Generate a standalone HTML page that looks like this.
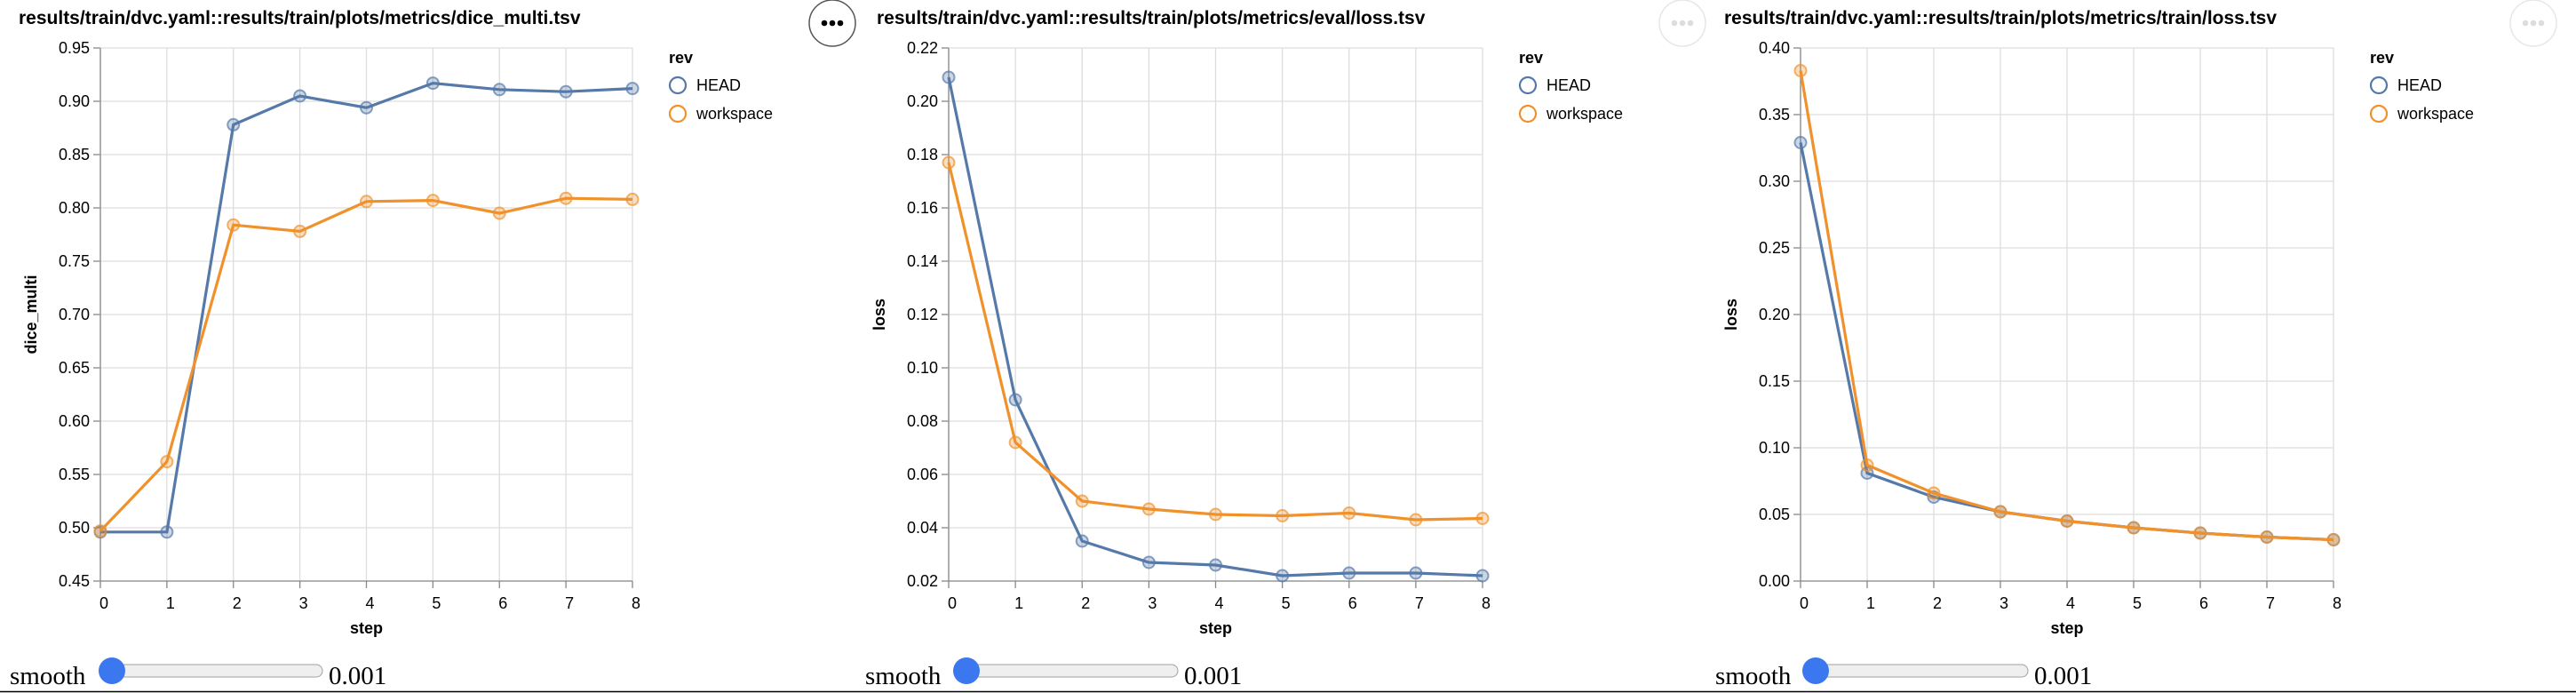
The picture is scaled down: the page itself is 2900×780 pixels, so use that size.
<!DOCTYPE html>
<html><head><meta charset="utf-8">
<style>
html,body{margin:0;padding:0;background:#fff;width:2900px;height:780px;overflow:hidden}
svg{display:block}
</style></head>
<body>
<svg id="root" width="2900" height="780" xmlns="http://www.w3.org/2000/svg"></svg>
<script>
const steps = [0,1,2,3,4,5,6,7,8];
const diceHead = [0.496,0.496,0.878,0.905,0.894,0.917,0.911,0.909,0.912];
const diceWork = [0.497,0.562,0.784,0.778,0.806,0.807,0.795,0.809,0.808];
const evalHead = [0.209,0.088,0.035,0.027,0.026,0.022,0.023,0.023,0.022];
const evalWork = [0.177,0.072,0.050,0.047,0.045,0.0445,0.0455,0.043,0.0435];
const trainHead = [0.329,0.081,0.063,0.052,0.045,0.040,0.036,0.033,0.031];
const trainWork = [0.383,0.087,0.066,0.052,0.045,0.040,0.036,0.033,0.031];
const diceTicks = [0.45,0.50,0.55,0.60,0.65,0.70,0.75,0.80,0.85,0.90,0.95];
const evalTicks = [0.02,0.04,0.06,0.08,0.10,0.12,0.14,0.16,0.18,0.20,0.22];
const trainTicks = [0.00,0.05,0.10,0.15,0.20,0.25,0.30,0.35,0.40];
const titles = ["results/train/dvc.yaml::results/train/plots/metrics/dice_multi.tsv","results/train/dvc.yaml::results/train/plots/metrics/eval/loss.tsv","results/train/dvc.yaml::results/train/plots/metrics/train/loss.tsv"];
const yTitles = ["dice_multi","loss","loss"];

const NS="http://www.w3.org/2000/svg";
const root=document.getElementById('root');
function mk(tag,attrs,parent){const e=document.createElementNS(NS,tag);for(const k in attrs)e.setAttribute(k,attrs[k]);(parent||root).appendChild(e);return e;}
const F='"Liberation Sans", Arial, sans-serif';
const HC="#5579a8", WC="#f0912c";

const charts=[
 {L:113,R:712,titleX:21,ell:937,ellDark:true,sm:11,knob:126,trackEnd:363,val:370,head:diceHead,work:diceWork,ticks:diceTicks,dec:2},
 {L:1068,R:1669,titleX:987,ell:1894,ellDark:false,sm:974,knob:1088,trackEnd:1326,val:1333,head:evalHead,work:evalWork,ticks:evalTicks,dec:2},
 {L:2027,R:2627,titleX:1941,ell:2852,ellDark:false,sm:1931,knob:2044,trackEnd:2283,val:2290,head:trainHead,work:trainWork,ticks:trainTicks,dec:2}
];
const T=54,B=654;

charts.forEach((c,i)=>{
 const g=mk('g',{});
 
 
 const ymin=c.ticks[0], ymax=c.ticks[c.ticks.length-1];
 const x=v=>c.L+(v-steps[0])/(steps[steps.length-1]-steps[0])*(c.R-c.L);
 const y=v=>B-(v-ymin)/(ymax-ymin)*(B-T);
 const t=mk('text',{x:c.titleX,y:27,'font-family':F,'font-size':21,'font-weight':'bold',fill:'#000'},g);
 t.textContent=titles[i];
 
 
 c.ticks.forEach(v=>{
  const l=mk('line',{x1:c.L,x2:c.R,y1:y(v),y2:y(v),stroke:'#ddd','stroke-width':1.3},g);
  
  
  mk('line',{x1:c.L-8,x2:c.L,y1:y(v),y2:y(v),stroke:'#888','stroke-width':1.3},g);
  const tl=mk('text',{x:c.L-12,y:y(v)+6,'text-anchor':'end','font-family':F,'font-size':18,fill:'#000'},g);
  tl.textContent=v.toFixed(c.dec);
  
  
 });
 steps.forEach(s=>{
  const l=mk('line',{x1:x(s),x2:x(s),y1:T,y2:B,stroke:'#ddd','stroke-width':1.3},g);
  
  
  mk('line',{x1:x(s),x2:x(s),y1:B,y2:B+8,stroke:'#888','stroke-width':1.3},g);
  const tl=mk('text',{x:x(s)+4,y:B+31,'text-anchor':'middle','font-family':F,'font-size':18,fill:'#000'},g);
  tl.textContent=s;
  
  
 });
 mk('line',{x1:c.L,x2:c.L,y1:T,y2:B,stroke:'#888','stroke-width':1.3},g);
 mk('line',{x1:c.L,x2:c.R,y1:B,y2:B,stroke:'#888','stroke-width':1.3},g);
 const xt=mk('text',{x:(c.L+c.R)/2,y:713,'text-anchor':'middle','font-family':F,'font-size':18,'font-weight':'bold'},g);
 xt.textContent='step';
 
 
 const ytx=c.L-72;
 const yt=mk('text',{x:ytx,y:(T+B)/2,'text-anchor':'middle','font-family':F,'font-size':18,'font-weight':'bold',transform:`rotate(-90 ${ytx} ${(T+B)/2})`},g);
 yt.textContent=yTitles[i];
 
 
 [[c.head,HC,'head'],[c.work,WC,'workspace']].forEach(([vals,col,nm])=>{
  const p=mk('path',{d:vals.map((v,k)=>(k?'L':'M')+x(steps[k])+','+y(v)).join(''),fill:'none',stroke:col,'stroke-width':3.2},g);
  
  
  vals.forEach((v,k)=>{
   const pt=mk('circle',{cx:x(steps[k]),cy:y(v),r:6.5,fill:col,'fill-opacity':0.3,stroke:col,'stroke-width':2,'stroke-opacity':0.7},g);
   
   
  });
 });
 const lx=c.R+41;
 const lt=mk('text',{x:lx,y:71,'font-family':F,'font-size':18,'font-weight':'bold'},g);
 lt.textContent='rev';
 
 
 [['HEAD',HC,96],['workspace',WC,128]].forEach(([n,col,yy])=>{
  const lc=mk('circle',{cx:lx+10,cy:yy,r:9,fill:'none',stroke:col,'stroke-width':2.2},g);
  
  
  const ltx=mk('text',{x:lx+31,y:yy+6,'font-family':F,'font-size':18,fill:'#000'},g);
  ltx.textContent=n;
  
  
 });
 const eg=mk('g',{},g);
 
 
 mk('circle',{cx:c.ell,cy:26,r:26,fill:'#fff',stroke:c.ellDark?'#555':'#e6e6e6','stroke-width':1.5},eg);
 [-9,0,9].forEach(d=>mk('circle',{cx:c.ell+d,cy:26,r:3.3,fill:c.ellDark?'#000':'#ddd'},eg));
 const sm=mk('text',{x:c.sm,y:770,'font-family':'"Liberation Serif", serif','font-size':29,fill:'#000'},g);
 sm.textContent='smooth';
 
 
 const tr=mk('rect',{x:c.knob,y:748,width:c.trackEnd-c.knob,height:14,rx:7,fill:'#efefef',stroke:'#a0a0a0','stroke-width':1},g);
 
 
 const kn=mk('circle',{cx:c.knob,cy:755,r:15,fill:'#3b78f0'},g);
 
 
 const vl=mk('text',{x:c.val,y:770,'font-family':'"Liberation Serif", serif','font-size':29,fill:'#000'},g);
 vl.textContent='0.001';
 
 
});
const hr=mk('line',{x1:0,x2:2900,y1:778.5,y2:778.5,stroke:'#000','stroke-width':1.5});


</script>
</body></html>
